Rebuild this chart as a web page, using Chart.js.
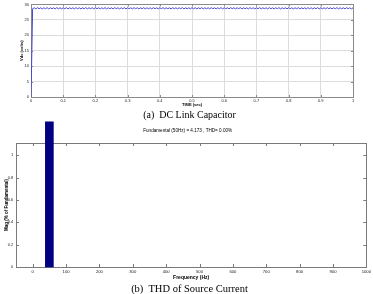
<!DOCTYPE html>
<html><head><meta charset="utf-8">
<script src="https://cdn.jsdelivr.net/npm/chart.js@4/dist/chart.umd.min.js"></script>
<style>
html,body{margin:0;padding:0;background:#fff}
body{width:373px;height:294px;overflow:hidden;position:relative}
canvas{position:absolute;left:0}
#c1{top:0}
#c2{top:120px}
.cap{position:absolute;left:3px;width:373px;text-align:center;font-family:'Liberation Serif','Times New Roman',serif;color:#000;white-space:pre;line-height:12px}
</style></head><body>
<canvas id="c1" width="373" height="110" style="width:373px;height:110px"></canvas>
<div class="cap" style="top:109px;font-size:10px">(a)  DC Link Capacitor</div>
<canvas id="c2" width="373" height="165" style="width:373px;height:165px"></canvas>
<div class="cap" style="top:283px;font-size:10.5px">(b)  THD of Source Current</div>
<script>
// ---- (a) DC link capacitor voltage ----
const TIME_STEP = 0.005; // sample spacing (s)
const vdc = [0,
28.6,28.9,28.55,28.95,28.6,28.9,28.55,28.9,28.6,28.95,28.55,28.9,28.6,28.9,28.55,28.95,28.6,28.9,28.55,28.9,
28.6,28.95,28.55,28.9,28.6,28.9,28.55,28.95,28.6,28.9,28.55,28.9,28.6,28.95,28.55,28.9,28.6,28.9,28.55,28.95,
28.6,28.9,28.55,28.9,28.6,28.95,28.55,28.9,28.6,28.9,28.55,28.95,28.6,28.9,28.55,28.9,28.6,28.95,28.55,28.9,
28.6,28.9,28.55,28.95,28.6,28.9,28.55,28.9,28.6,28.95,28.55,28.9,28.6,28.9,28.55,28.95,28.6,28.9,28.55,28.9,
28.6,28.95,28.55,28.9,28.6,28.9,28.55,28.95,28.6,28.9,28.55,28.9,28.6,28.95,28.55,28.9,28.6,28.9,28.55,28.95,
28.6,28.9,28.55,28.9,28.6,28.95,28.55,28.9,28.6,28.9,28.55,28.95,28.6,28.9,28.55,28.9,28.6,28.95,28.55,28.9,
28.6,28.9,28.55,28.95,28.6,28.9,28.55,28.9,28.6,28.95,28.55,28.9,28.6,28.9,28.55,28.95,28.6,28.9,28.55,28.9,
28.6,28.95,28.55,28.9,28.6,28.9,28.55,28.95,28.6,28.9,28.55,28.9,28.6,28.95,28.55,28.9,28.6,28.9,28.55,28.95,
28.6,28.9,28.55,28.9,28.6,28.95,28.55,28.9,28.6,28.9,28.55,28.95,28.6,28.9,28.55,28.9,28.6,28.95,28.55,28.9,
28.6,28.9,28.55,28.95,28.6,28.9,28.55,28.9,28.6,28.95,28.55,28.9,28.6,28.9,28.55,28.95,28.6,28.9,28.55,28.9
];
const timeTicks = [0,0.1,0.2,0.3,0.4,0.5,0.6,0.7,0.8,0.9,1];
const timeTickLabels = ['0','0.1','0.2','0.3','0.4','0.5','0.6','0.7','0.8','0.9','1'];
const vdcTicks = [0,5,10,15,20,25,30];
const vdcTickLabels = ['0','5','10','15','20','25','30'];

// ---- (b) THD spectrum ----
const freqs = [50];
const mags = [1.3];
const freqTicks = [0,100,200,300,400,500,600,700,800,900,1000];
const freqTickLabels = ['0','100','200','300','400','500','600','700','800','900','1000'];
const magTicks = [0,0.2,0.4,0.6,0.8,1];
const magTickLabels = ['0','0.2','0.4','0.6','0.8','1'];
const spectrumTitle = 'Fundamental (50Hz) = 4.173 , THD= 0.00%';

Chart.defaults.font.family = "'Liberation Sans', Arial, sans-serif";
Chart.defaults.color = '#222';

const boxPlugin = {
  id: 'box',
  beforeDatasetsDraw(chart, args, opts) {
    const {ctx, chartArea: a, scales: {x, y}} = chart;
    ctx.save();
    ctx.strokeStyle = opts.color;
    ctx.lineWidth = 1;
    ctx.strokeRect(Math.round(a.left) + 0.5, Math.round(a.top) + 0.5,
                   Math.round(a.right - a.left), Math.round(a.bottom - a.top));
    ctx.beginPath();
    const L = opts.len;
    x.ticks.forEach(t => {
      const p = Math.round(x.getPixelForValue(t.value)) + 0.5;
      ctx.moveTo(p, a.bottom); ctx.lineTo(p, a.bottom - L);
      ctx.moveTo(p, a.top); ctx.lineTo(p, a.top + L);
    });
    y.ticks.forEach(t => {
      const p = Math.round(y.getPixelForValue(t.value)) + 0.5;
      ctx.moveTo(a.left, p); ctx.lineTo(a.left + L, p);
      ctx.moveTo(a.right, p); ctx.lineTo(a.right - L, p);
    });
    ctx.stroke();
    if (opts.title) {
      ctx.fillStyle = '#000';
      ctx.font = opts.titleFont;
      ctx.textAlign = 'center';
      ctx.textBaseline = 'middle';
      ctx.fillText(opts.title, (a.left + a.right) / 2 + opts.titleDx, opts.titleY);
    }
    ctx.restore();
  }
};

new Chart(document.getElementById('c1'), {
  type: 'line',
  data: {
    datasets: [{
      data: vdc.map((v, i) => ({x: i * TIME_STEP, y: v})),
      borderColor: '#4848d4',
      borderWidth: 1,
      pointRadius: 0,
      tension: 0
    }]
  },
  options: {
    responsive: false, animation: false, devicePixelRatio: 1,
    layout: {padding: {left: 0, top: 2, right: 20, bottom: 0}},
    plugins: {legend: {display: false}, tooltip: {enabled: false},
      box: {color: '#8a8a8a', len: 2}},
    scales: {
      x: {
        type: 'linear', min: 0, max: 1,
        afterBuildTicks: s => { s.ticks = timeTicks.map(v => ({value: v})); },
        afterFit: s => { s.height = 13; },
        grid: {color: '#dcdcdc', drawTicks: false},
        border: {display: false},
        ticks: {font: {size: 4}, padding: 1, maxRotation: 0, autoSkip: false,
          callback: (v, i) => timeTickLabels[i]},
        title: {display: true, text: 'TIME (sec)', font: {size: 4, weight: 'bold'},
          color: '#000', padding: {top: 0, bottom: 3.2}}
      },
      y: {
        min: 0, max: 30,
        afterBuildTicks: s => { s.ticks = vdcTicks.map(v => ({value: v})); },
        afterFit: s => { s.width = 31; },
        grid: {color: '#dcdcdc', drawTicks: false},
        border: {display: false},
        ticks: {font: {size: 4}, padding: 2, autoSkip: false,
          callback: (v, i) => vdcTickLabels[i]},
        title: {display: true, text: 'Vdc (volts)', font: {size: 4, weight: 'bold'},
          color: '#000', padding: {top: 19.6, bottom: 0}}
      }
    }
  },
  plugins: [boxPlugin]
});

new Chart(document.getElementById('c2'), {
  type: 'bar',
  data: {
    datasets: [{
      data: freqs.map((f, i) => ({x: f, y: mags[i]})),
      backgroundColor: '#000080',
      borderWidth: 0,
      barThickness: 8,
      clip: false
    }]
  },
  options: {
    responsive: false, animation: false, devicePixelRatio: 1,
    layout: {padding: {left: 0, top: 23, right: 6, bottom: 0}},
    plugins: {legend: {display: false}, tooltip: {enabled: false},
      title: {display: false},
      box: {color: '#7a7a7a', len: 3, title: spectrumTitle,
        titleFont: "4.6px 'Liberation Sans', Arial, sans-serif", titleDx: -3.5, titleY: 11}},
    scales: {
      x: {
        type: 'linear', min: -50, max: 1000, offset: false,
        afterBuildTicks: s => { s.ticks = freqTicks.map(v => ({value: v})); },
        afterFit: s => { s.height = 18; },
        grid: {display: false, drawTicks: false},
        border: {display: false},
        ticks: {font: {size: 4.2}, padding: 2, maxRotation: 0, autoSkip: false,
          callback: (v, i) => freqTickLabels[i]},
        title: {display: true, text: 'Frequency (Hz)', font: {size: 5, weight: 'bold'},
          color: '#000', padding: {top: 0, bottom: 4.2}}
      },
      y: {
        min: 0, max: 1.11,
        afterBuildTicks: s => { s.ticks = magTicks.map(v => ({value: v})); },
        afterFit: s => { s.width = 16; },
        grid: {display: false, drawTicks: false},
        border: {display: false},
        ticks: {font: {size: 4}, padding: 2.7, autoSkip: false,
          callback: (v, i) => magTickLabels[i]},
        title: {display: true, text: 'Mag (% of Fundamental)', font: {size: 4.5, weight: 'bold'},
          color: '#000', padding: {top: 3.8, bottom: 0}}
      }
    }
  },
  plugins: [boxPlugin]
});
</script>
</body></html>
